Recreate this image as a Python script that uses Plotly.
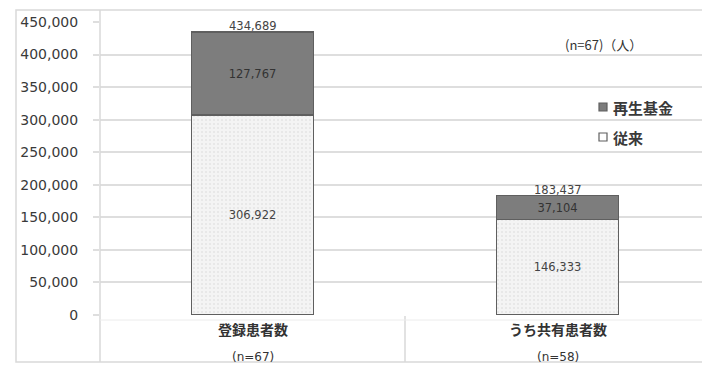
import plotly.graph_objects as go

categories = ["登録患者数", "うち共有患者数"]
category_n = ["(n=67)", "(n=58)"]
conventional = [306922, 146333]   # 従来
fund = [127767, 37104]            # 再生基金
totals = [434689, 183437]
series_names = ["従来", "再生基金"]
y_ticks = [0, 50000, 100000, 150000, 200000, 250000, 300000, 350000, 400000, 450000]

W, H = 702, 369
L, R, T, B = 100, 0, 22, 54
PW, PH = W - L - R, H - T - B

def px(x):
    return (x - L) / PW

def py(y):
    return (H - B - y) / PH

DARK = "#7d7d7d"
EDGE = "#5f5f5f"

fig = go.Figure()
fig.add_trace(go.Bar(
    x=[0, 1], y=conventional, name=series_names[0], width=0.4,
    marker=dict(color="#f3f3f3", line=dict(color=EDGE, width=1.5),
                pattern=dict(shape=".", fgcolor="#d6d6d6", bgcolor="#f4f4f4", size=4, solidity=0.2)),
    text=[f"{v:,}" for v in conventional], textposition="inside",
    insidetextanchor="middle", textangle=0,
    textfont=dict(size=11.5, color="#444444", family="DejaVu Sans"),
    showlegend=False,
))
fig.add_trace(go.Bar(
    x=[0, 1], y=fund, name=series_names[1], width=0.4,
    marker=dict(color=DARK, line=dict(color=EDGE, width=1.5)),
    text=[f"{v:,}" for v in fund], textposition="inside",
    insidetextanchor="middle", textangle=0,
    textfont=dict(size=11.5, color="#333333", family="DejaVu Sans"),
    showlegend=False,
))

annotations = []
for i, t in enumerate(totals):
    annotations.append(dict(x=i, y=t, xref="x", yref="y", text=f"{t:,}", showarrow=False,
                            yanchor="bottom", yshift=-3,
                            font=dict(size=11.5, color="#444444", family="DejaVu Sans")))
for i, (c, n) in enumerate(zip(categories, category_n)):
    annotations.append(dict(x=i, y=py(341), xref="x", yref="paper", text=f"<b>{c}</b>", showarrow=False,
                            xanchor="center",
                            font=dict(size=14, color="#333333", family="Noto Sans CJK JP")))
    annotations.append(dict(x=i, y=py(366), xref="x", yref="paper", text=n, showarrow=False,
                            xanchor="center",
                            font=dict(size=12, color="#333333", family="DejaVu Sans")))
annotations.append(dict(x=px(603), y=py(44), xref="paper", yref="paper", text="(n=67)（人）",
                        xanchor="center", yanchor="middle",
                        showarrow=False, font=dict(size=13, color="#333333", family="Noto Sans CJK JP")))

# legend (manual, to match the small square markers)
legend_items = [(series_names[1], DARK, 107), (series_names[0], "white", 137)]
for name, col, yy in legend_items:
    annotations.append(dict(x=px(611), y=py(yy), xref="paper", yref="paper", text=f"<b>{name}</b>",
                            xanchor="left", yanchor="middle", showarrow=False,
                            font=dict(size=15, color="#3a3a3a", family="Noto Sans CJK JP")))

line_col = "#d9d9d9"
shapes = [
    dict(type="rect", xref="paper", yref="paper", x0=px(16), x1=px(703), y0=py(362), y1=py(10),
         line=dict(color=line_col, width=1.5)),
    dict(type="line", xref="paper", yref="paper", x0=px(100), x1=px(100), y0=py(362), y1=py(10),
         line=dict(color=line_col, width=1.5)),
    dict(type="line", xref="paper", yref="paper", x0=px(405), x1=px(405), y0=py(362), y1=py(316),
         line=dict(color=line_col, width=1.5)),
    dict(type="line", xref="paper", yref="paper", x0=px(100), x1=px(703), y0=py(320), y1=py(320),
         line=dict(color="#ececec", width=1)),
]
for name, col, yy in legend_items:
    shapes.append(dict(type="rect", xref="paper", yref="paper",
                       x0=px(599), x1=px(607), y0=py(yy + 4), y1=py(yy - 4),
                       fillcolor=col, line=dict(color=EDGE, width=1.2)))

fig.update_layout(
    width=W, height=H,
    margin=dict(l=L, r=R, t=T, b=B),
    paper_bgcolor="white", plot_bgcolor="white",
    barmode="stack",
    showlegend=False,
    xaxis=dict(range=[-0.5, -0.5 + PW / 305], showticklabels=False, showgrid=False,
               zeroline=False, showline=False, fixedrange=True),
    yaxis=dict(range=[0, 450000], tickvals=y_ticks, ticktext=[f"{v:,}" for v in y_ticks],
               showgrid=True, gridcolor="#dedede", gridwidth=1.5,
               ticks="outside", ticklen=6, tickcolor="#dedede", tickwidth=1.5,
               ticklabelstandoff=12, zeroline=False, showline=False,
               tickfont=dict(size=14, color="#3a3a3a", family="DejaVu Sans")),
    annotations=annotations,
    shapes=shapes,
    font=dict(family="Noto Sans CJK JP"),
)

fig.write_html("out.html")
